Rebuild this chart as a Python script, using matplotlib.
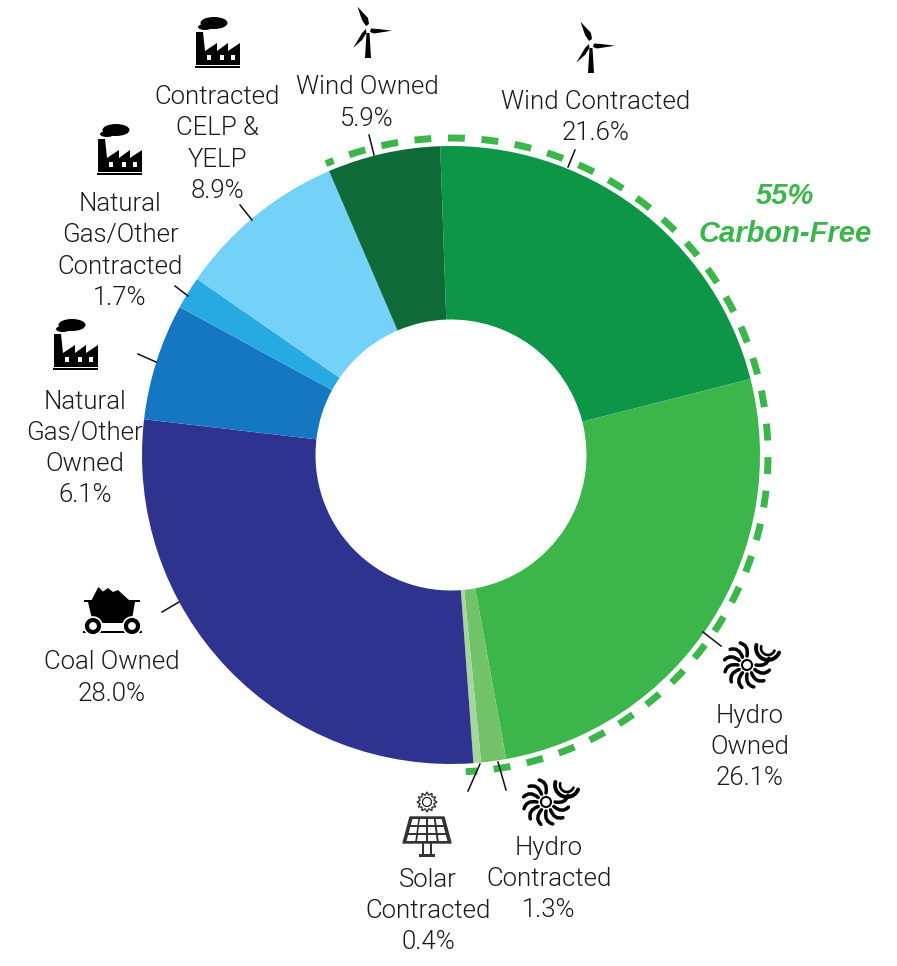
import numpy as np
import matplotlib
matplotlib.use("Agg")
import matplotlib.pyplot as plt
from matplotlib.patches import Polygon, Circle, Ellipse, Rectangle, PathPatch
from matplotlib.path import Path

W, H = 897, 966

# slices, clockwise from the top
names = ["Wind Contracted", "Hydro Owned", "Hydro Contracted", "Solar Contracted", "Coal Owned",
         "Natural Gas/Other Owned", "Natural Gas/Other Contracted", "Contracted CELP & YELP", "Wind Owned"]
shares = [21.6, 26.1, 1.3, 0.4, 28.0, 6.1, 1.7, 8.9, 5.9]
colors = ["#0E9648", "#3CB54A", "#72C269", "#A5D69C", "#2E3390", "#1577C2", "#27AAE1", "#74D1F8", "#0E6B38"]
carbon_free = [True, True, True, True, False, False, False, False, True]

labels = ["Wind Contracted\n21.6%", "Hydro\nOwned\n26.1%", "Hydro\nContracted\n1.3%", "Solar\nContracted\n0.4%",
          "Coal Owned\n28.0%", "Natural\nGas/Other\nOwned\n6.1%", "Natural\nGas/Other\nContracted\n1.7%",
          "Contracted\nCELP &\nYELP\n8.9%", "Wind Owned\n5.9%"]
label_pos = [(596, 117.5), (750, 747), (549, 879), (428, 911), (112, 678), (85, 448.5), (120, 251), (217, 144), (367, 103)]
leaders = [((575, 150), (568, 167)), ((703, 632), (721, 646)), ((498, 762), (506, 790)), ((480, 764), (468, 791)),
           ((162, 612), (179, 602)), ((138, 354), (156, 362)), ((175, 286), (188, 296)), ((240, 205), (252, 220)),
           ((369, 135), (374, 155))]

GREEN = "#3CB54A"
TXT = "#1a1a1a"
CX, CY = 451, 455
R_OUT, R_IN = 309, 135.5
R_DASH = 317
START = 92
ARC_PAD = 1.5


def fy(y):
    return H - y


def poly(ax, pts, ox, oy, color="black", z=5):
    ax.add_patch(Polygon([(ox + x, fy(oy + y)) for x, y in pts], closed=True, fc=color, ec="none", zorder=z))


def factory(ax, ox, oy):
    # ox, oy is bottom left of the icon in image pixels
    poly(ax, [(1, -3), (1, -36), (8, -36), (10, -17), (22, -25), (22, -17), (33, -25), (33, -17), (45, -25),
              (45, -3)], ox, oy)
    ax.add_patch(Rectangle((ox, fy(oy)), 45, 1.8, fc="black", ec="none", zorder=5))
    for wx in [14, 27, 38]:
        ax.add_patch(Rectangle((ox + wx - 2.3, fy(oy - 8.5)), 4.6, 5, fc="white", ec="none", zorder=6))
    ax.add_patch(Ellipse((ox + 19, fy(oy - 45)), 27, 12, fc="black", ec="none", zorder=5))
    ax.add_patch(Ellipse((ox + 10, fy(oy - 41)), 14, 6, fc="black", ec="none", zorder=5))


def turbine(ax, hx, hy):
    poly(ax, [(-1.5, 3), (1.5, 3), (3, 28), (-3, 28)], hx, hy)
    poly(ax, [(-10.5, -23.3), (-6, -10), (-2, -4), (1, -6), (0, -12)], hx, hy)
    poly(ax, [(24, 0.7), (6, 3.5), (2, 2), (3, -1.5), (10, -1)], hx, hy)
    poly(ax, [(-14.7, 17.7), (-6, 3), (-2, -1), (-1.5, 3), (-6, 10)], hx, hy)
    ax.add_patch(Circle((hx, fy(hy)), 1.1, fc="white", ec="none", zorder=6))


def hydro(ax, hx, hy):
    ax.add_patch(Circle((hx, fy(hy)), 5, fc="white", ec="black", lw=1.5, zorder=5))
    for a in np.arange(0, 360, 30):
        if a in (30, 60):
            continue
        a0 = np.deg2rad(a)
        p0 = (hx + 9 * np.cos(a0), fy(hy) + 9 * np.sin(a0))
        p1 = (hx + 20 * np.cos(a0 - 0.1), fy(hy) + 20 * np.sin(a0 - 0.1))
        p2 = (hx + 23 * np.cos(a0 + 0.3), fy(hy) + 23 * np.sin(a0 + 0.3))
        ax.add_patch(PathPatch(Path([p0, p1, p2], [Path.MOVETO, Path.CURVE3, Path.CURVE3]), fc="none", ec="black",
                               lw=2.5, capstyle="round", zorder=5))
    # the small swirl on the upper right
    for r, w in [(12, 2.8), (7, 1.9)]:
        th = np.deg2rad(np.linspace(165, 338, 20))
        ax.plot(hx + 21 + r * np.cos(th), fy(hy - 17) + r * np.sin(th), color="black", lw=w, zorder=5,
                solid_capstyle="round")


def solar(ax, sx, sy):
    # sx, sy is the centre of the sun
    ax.add_patch(Circle((sx, fy(sy)), 4.5, fc="white", ec="#222222", lw=0.9, zorder=5))
    th = np.deg2rad(np.arange(0, 360, 15))
    rr = np.where(np.arange(24) % 2 == 0, 10, 7)
    ax.add_patch(Polygon(np.c_[sx + rr * np.cos(th), fy(sy) + rr * np.sin(th)], closed=True, fc="none", ec="#222222",
                         lw=0.9, zorder=5))
    top, bot = sy + 15, sy + 41
    ax.add_patch(Polygon([(sx - 17, fy(top)), (sx + 17, fy(top)), (sx + 24, fy(bot)), (sx - 24, fy(bot))], closed=True,
                         fc="#333333", ec="#333333", lw=1, joinstyle="round", zorder=5))
    for r in range(3):
        for c in range(4):
            y0 = top + 2 + r * 8
            y1 = y0 + 6
            xl0 = sx - (16 + (y0 - top) * 7 / 26) + 1
            xl1 = sx - (16 + (y1 - top) * 7 / 26) + 1
            wt, wb = (sx - xl0) / 2, (sx - xl1) / 2
            ax.add_patch(Polygon([(xl0 + c * wt + 1, fy(y0)), (xl0 + (c + 1) * wt - 1, fy(y0)),
                                  (xl1 + (c + 1) * wb - 1, fy(y1)), (xl1 + c * wb + 1, fy(y1))], closed=True,
                                 fc="white", ec="none", zorder=6))
    ax.add_patch(Rectangle((sx - 5, fy(bot + 11)), 2, 11, fc="#333333", ec="none", zorder=5))
    ax.add_patch(Rectangle((sx + 3, fy(bot + 11)), 2, 11, fc="#333333", ec="none", zorder=5))
    ax.add_patch(Rectangle((sx - 8, fy(bot + 14)), 16, 3, fc="#333333", ec="none", zorder=5))


def coal_cart(ax, ox, oy):
    # ox, oy is bottom left of the rail in image pixels
    poly(ax, [(8.7, -33), (15.3, -46), (20, -41.5), (25, -45), (30, -41), (35, -43), (46, -33)], ox, oy)
    ax.add_patch(Rectangle((ox + 1, fy(oy - 31)), 56, 2, fc="black", ec="none", zorder=5))
    poly(ax, [(5, -31), (52, -31), (49, -14), (46, -10), (13, -10), (9, -14)], ox, oy)
    ax.add_patch(Rectangle((ox, fy(oy)), 59, 1.8, fc="black", ec="none", zorder=5))
    for wx in [10, 49]:
        ax.add_patch(Circle((ox + wx, fy(oy - 7)), 9.8, fc="white", ec="none", zorder=6))
        ax.add_patch(Circle((ox + wx, fy(oy - 7)), 6, fc="white", ec="black", lw=3, zorder=7))


fig = plt.figure(figsize=(W / 100, H / 100), dpi=100)
ax = fig.add_axes([0, 0, 1, 1])

ax.pie(shares, colors=colors, startangle=START, counterclock=False, radius=R_OUT, center=(CX, fy(CY)),
       wedgeprops=dict(width=R_OUT - R_IN, linewidth=0), frame=False)
ax.set_xlim(0, W)
ax.set_ylim(0, H)
ax.set_aspect("equal")
ax.axis("off")

# dashed ring over the carbon free share
owned_wind = shares[-1]
free_total = sum(s for s, f in zip(shares, carbon_free) if f)
th0 = START + owned_wind * 3.6
th = np.deg2rad(np.linspace(th0, th0 - free_total * 3.6 - ARC_PAD, 800))
ax.plot(CX + R_DASH * np.cos(th), fy(CY) + R_DASH * np.sin(th), color=GREEN, lw=5, linestyle=(1.24, (2.43, 2.40)),
        dash_capstyle="butt", zorder=3)

font = dict(family="Roboto", fontweight=300, fontsize=18.5, color=TXT, ha="center", va="center", linespacing=1.38)
for lab, (x, y) in zip(labels, label_pos):
    ax.text(x, fy(y), lab, **font)
for (a, b) in leaders:
    ax.plot([a[0], b[0]], [fy(a[1]), fy(b[1])], color="#111111", lw=1.1, zorder=4)

ax.text(785, fy(215), "55%\nCarbon-Free", family="Liberation Sans", fontsize=21, fontweight="bold", fontstyle="italic",
        color=GREEN, ha="center", va="center", linespacing=1.43)

factory(ax, 195, 68)
factory(ax, 97, 175)
factory(ax, 53, 370)
turbine(ax, 368, 30)
turbine(ax, 591, 45)
hydro(ax, 747, 665)
hydro(ax, 546, 802)
solar(ax, 427, 802)
coal_cart(ax, 83, 633)

fig.savefig("out.png", dpi=100)
